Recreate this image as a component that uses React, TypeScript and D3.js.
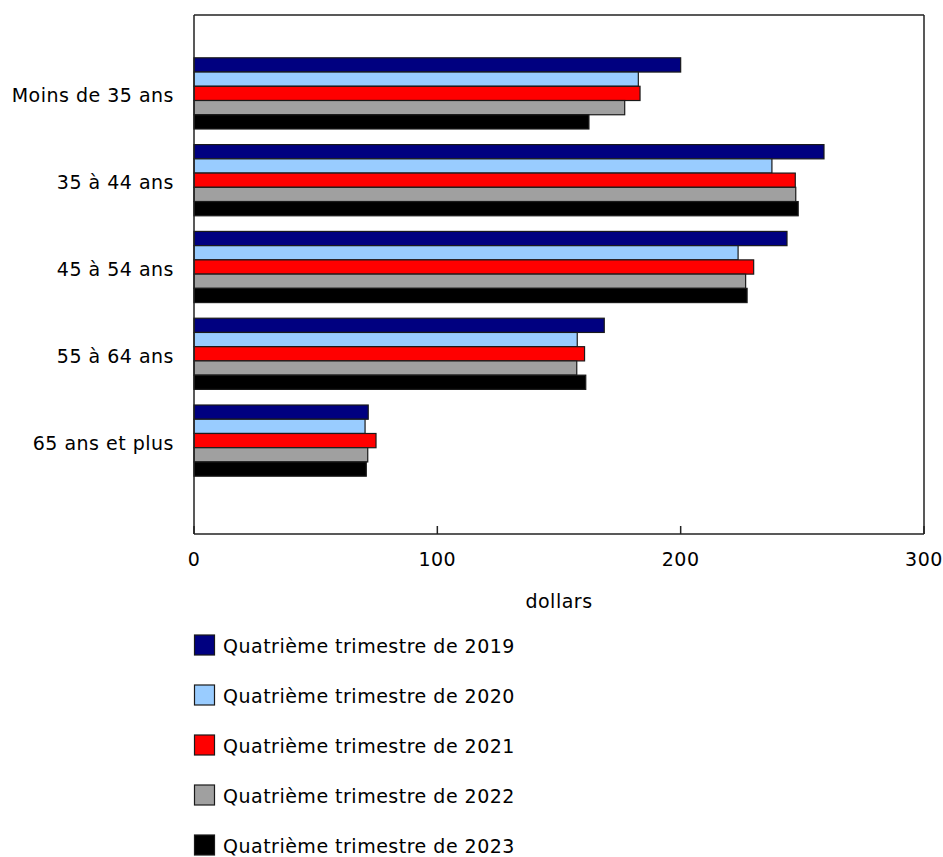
import React from "react";
import * as d3 from "d3";

const categories = [
  "Moins de 35 ans",
  "35 à 44 ans",
  "45 à 54 ans",
  "55 à 64 ans",
  "65 ans et plus",
];

const seriesNames = [
  "Quatrième trimestre de 2019",
  "Quatrième trimestre de 2020",
  "Quatrième trimestre de 2021",
  "Quatrième trimestre de 2022",
  "Quatrième trimestre de 2023",
];

const seriesColors = ["#000080", "#99ccff", "#ff0000", "#a0a0a0", "#000000"];

const q4_2019 = [200.0, 258.9, 243.7, 168.6, 71.6];
const q4_2020 = [182.6, 237.5, 223.6, 157.5, 70.3];
const q4_2021 = [183.3, 247.1, 230.0, 160.5, 74.8];
const q4_2022 = [177.0, 247.3, 226.7, 157.3, 71.4];
const q4_2023 = [162.3, 248.3, 227.3, 161.0, 70.8];

const xTicks = [0, 100, 200, 300];

const series = [q4_2019, q4_2020, q4_2021, q4_2022, q4_2023];

const W = 943;
const H = 857;
const left = 194;
const right = 924;
const top = 15;
const bottom = 534;
const font = "Verdana, 'DejaVu Sans', sans-serif";
const fs = 19;
const ls = 0.5;

export default function App() {
  const x = d3.scaleLinear().domain([0, 300]).range([left, right]);
  const y0 = d3
    .scaleBand<string>()
    .domain(categories)
    .range([50, 484])
    .paddingInner(0.18)
    .paddingOuter(0.09);
  const y1 = d3
    .scaleBand<number>()
    .domain(d3.range(series.length))
    .range([0, y0.bandwidth()]);

  return (
    <svg
      width={W}
      height={H}
      style={{ position: "absolute", left: 0, top: 0, background: "#fff" }}
      fontFamily={font}
    >
      {/* bars */}
      {categories.map((c, ci) => (
        <g key={c} transform={`translate(0,${y0(c)})`}>
          {series.map((vals, si) => (
            <rect
              key={si}
              x={x(0)}
              y={y1(si)}
              width={x(vals[ci]) - x(0)}
              height={y1.bandwidth()}
              fill={seriesColors[si]}
              stroke="#1a1a1a"
              strokeWidth={1.2}
            />
          ))}
        </g>
      ))}

      {/* frame */}
      <line x1={left} x2={right} y1={top} y2={top} stroke="#222" strokeWidth={1.5} />
      <line x1={right} x2={right} y1={top} y2={bottom} stroke="#222" strokeWidth={1.5} />
      <line x1={left} x2={left} y1={top} y2={bottom} stroke="#222" strokeWidth={1.5} />
      <line x1={left} x2={right} y1={bottom} y2={bottom} stroke="#222" strokeWidth={1.5} />

      {/* category labels */}
      {categories.map((c) => (
        <text
          key={c}
          x={174}
          y={(y0(c) ?? 0) + y0.bandwidth() / 2 + 2}
          textAnchor="end"
          dominantBaseline="central"
          fontSize={fs}
          letterSpacing={ls}
          fill="#000"
        >
          {c}
        </text>
      ))}

      {/* x ticks and labels */}
      {xTicks.map((t) => (
        <g key={t}>
          <line x1={x(t)} x2={x(t)} y1={bottom} y2={bottom - 8} stroke="#222" strokeWidth={1.5} />
          <text x={x(t)} y={559} textAnchor="middle" dominantBaseline="central" fontSize={fs} letterSpacing={ls} fill="#000">
            {t}
          </text>
        </g>
      ))}
      <text x={(left + right) / 2} y={601} textAnchor="middle" dominantBaseline="central" fontSize={fs} letterSpacing={ls} fill="#000">
        dollars
      </text>

      {/* legend */}
      {seriesNames.map((name, i) => (
        <g key={name} transform={`translate(194,${645 + i * 50})`}>
          <rect x={0.5} y={-10} width={20} height={20} fill={seriesColors[i]} stroke="#1a1a1a" strokeWidth={1.2} />
          <text x={29} y={1} dominantBaseline="central" fontSize={fs} letterSpacing={ls} fill="#000">
            {name}
          </text>
        </g>
      ))}
    </svg>
  );
}
